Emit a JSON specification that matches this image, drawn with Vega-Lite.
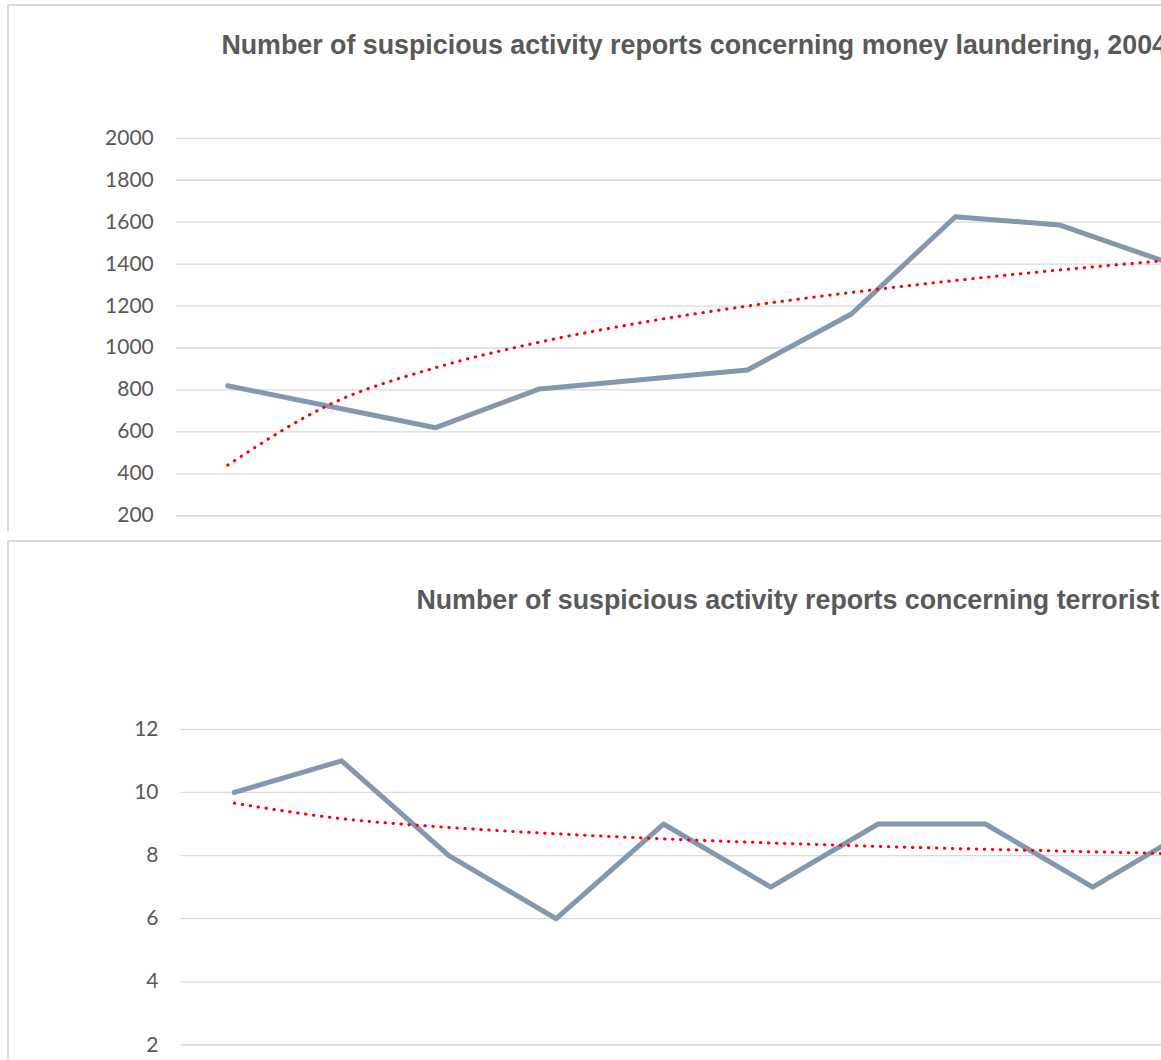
{
  "$schema": "https://vega.github.io/schema/vega-lite/v6.json",
  "padding": {"left": 7, "top": 4, "right": 0, "bottom": 0},
  "background": "white",
  "config": {
    "view": {"stroke": null},
    "concat": {"spacing": 8},
    "axisY": {"labelFont": "Lato", "labelFontSize": 21, "labelColor": "#595959", "domain": false, "ticks": false, "tickSize": 0, "grid": false, "labelPadding": 0, "labelFlush": false, "format": "d"},
    "title": {"font": "Liberation Sans", "fontSize": 26.8, "fontWeight": "bold", "color": "#595959", "anchor": "start", "frame": "group", "baseline": "alphabetic"}
  },
  "datasets": {
    "ml": [
      {"n": 1, "year": 2004, "value": 820, "trend": 441},
      {"n": 2, "year": 2005, "value": 720, "trend": 735},
      {"n": 3, "year": 2006, "value": 620, "trend": 906},
      {"n": 4, "year": 2007, "value": 805, "trend": 1028},
      {"n": 5, "year": 2008, "value": 850, "trend": 1123},
      {"n": 6, "year": 2009, "value": 895, "trend": 1200},
      {"n": 7, "year": 2010, "value": 1162, "trend": 1265},
      {"n": 8, "year": 2011, "value": 1626, "trend": 1322},
      {"n": 9, "year": 2012, "value": 1587, "trend": 1372},
      {"n": 10, "year": 2013, "value": 1415, "trend": 1416}
    ],
    "tf": [
      {"n": 1, "year": 2004, "value": 10, "trend": 9.66},
      {"n": 2, "year": 2005, "value": 11, "trend": 9.17},
      {"n": 3, "year": 2006, "value": 8, "trend": 8.89},
      {"n": 4, "year": 2007, "value": 6, "trend": 8.69},
      {"n": 5, "year": 2008, "value": 9, "trend": 8.53},
      {"n": 6, "year": 2009, "value": 7, "trend": 8.40},
      {"n": 7, "year": 2010, "value": 9, "trend": 8.29},
      {"n": 8, "year": 2011, "value": 9, "trend": 8.20},
      {"n": 9, "year": 2012, "value": 7, "trend": 8.12},
      {"n": 10, "year": 2013, "value": 9, "trend": 8.04}
    ],
    "mlGrid": [{"tick": 200}, {"tick": 400}, {"tick": 600}, {"tick": 800}, {"tick": 1000}, {"tick": 1200}, {"tick": 1400}, {"tick": 1600}, {"tick": 1800}, {"tick": 2000}],
    "tfGrid": [{"tick": 2}, {"tick": 4}, {"tick": 6}, {"tick": 8}, {"tick": 10}, {"tick": 12}],
    "one": [{}]
  },
  "vconcat": [
    {
      "width": 1160,
      "height": 526,
      "title": {"text": "Number of suspicious activity reports concerning money laundering, 2004-2014", "dx": 213.4, "offset": -56},
      "layer": [
        {
          "data": {"name": "mlGrid"},
          "mark": {"type": "rule", "color": "#d9d9d9", "strokeWidth": 1.3},
          "encoding": {
            "y": {"field": "tick", "type": "quantitative", "title": null, "scale": {"domain": [127.3, 2635.7], "nice": false, "zero": false}, "axis": {"values": [200, 400, 600, 800, 1000, 1200, 1400, 1600, 1800, 2000], "offset": -145.3}},
            "x": {"datum": 0.5, "type": "quantitative", "scale": {"domain": [-1.11352, 10.04569], "nice": false, "zero": false}, "axis": null},
            "x2": {"datum": 10.04569}
          }
        },
        {
          "data": {"name": "one"},
          "mark": {"type": "rule", "color": "#d9d9d9", "strokeWidth": 2},
          "encoding": {
            "x": {"datum": -1.11352, "type": "quantitative", "axis": null},
            "y": {"datum": 2635.7, "type": "quantitative", "title": null, "axis": {"values": [200, 400, 600, 800, 1000, 1200, 1400, 1600, 1800, 2000], "offset": -145.3}},
            "y2": {"datum": 127.3}
          }
        },
        {
          "data": {"name": "one"},
          "mark": {"type": "rule", "color": "#d9d9d9", "strokeWidth": 2},
          "encoding": {
            "x": {"datum": -1.11352, "type": "quantitative", "axis": null},
            "x2": {"datum": 10.04569},
            "y": {"datum": 2635.7, "type": "quantitative", "title": null, "axis": {"values": [200, 400, 600, 800, 1000, 1200, 1400, 1600, 1800, 2000], "offset": -145.3}}
          }
        },
        {
          "data": {"name": "ml"},
          "mark": {"type": "line", "color": "#8497b0", "strokeWidth": 5, "strokeCap": "round", "strokeJoin": "round", "clip": true},
          "encoding": {
            "x": {"field": "n", "type": "quantitative", "axis": null},
            "y": {"field": "value", "type": "quantitative", "title": null, "axis": {"values": [200, 400, 600, 800, 1000, 1200, 1400, 1600, 1800, 2000], "offset": -145.3}}
          }
        },
        {
          "data": {"name": "ml"},
          "mark": {"type": "line", "color": "#ff0000", "strokeWidth": 3, "strokeCap": "round", "strokeDash": [0.5, 7.5], "interpolate": "monotone", "clip": true},
          "encoding": {
            "x": {"field": "n", "type": "quantitative", "axis": null},
            "y": {"field": "trend", "type": "quantitative", "title": null, "axis": {"values": [200, 400, 600, 800, 1000, 1200, 1400, 1600, 1800, 2000], "offset": -145.3}}
          }
        }
      ]
    },
    {
      "width": 1160,
      "height": 519,
      "title": {"text": "Number of suspicious activity reports concerning terrorist financing, 2004-2014", "dx": 408.4, "offset": -75},
      "layer": [
        {
          "data": {"name": "tfGrid"},
          "mark": {"type": "rule", "color": "#d9d9d9", "strokeWidth": 1.3},
          "encoding": {
            "y": {"field": "tick", "type": "quantitative", "title": null, "scale": {"domain": [1.525, 17.9645], "nice": false, "zero": false}, "axis": {"values": [2, 4, 6, 8, 10, 12], "offset": -150}},
            "x": {"datum": 0.5, "type": "quantitative", "scale": {"domain": [-1.10904, 9.70177], "nice": false, "zero": false}, "axis": null},
            "x2": {"datum": 9.70177}
          }
        },
        {
          "data": {"name": "one"},
          "mark": {"type": "rule", "color": "#d9d9d9", "strokeWidth": 2},
          "encoding": {
            "x": {"datum": -1.10904, "type": "quantitative", "axis": null},
            "y": {"datum": 17.9645, "type": "quantitative", "title": null, "axis": {"values": [2, 4, 6, 8, 10, 12], "offset": -150}},
            "y2": {"datum": 1.525}
          }
        },
        {
          "data": {"name": "one"},
          "mark": {"type": "rule", "color": "#d9d9d9", "strokeWidth": 2},
          "encoding": {
            "x": {"datum": -1.10904, "type": "quantitative", "axis": null},
            "x2": {"datum": 9.70177},
            "y": {"datum": 17.9645, "type": "quantitative", "title": null, "axis": {"values": [2, 4, 6, 8, 10, 12], "offset": -150}}
          }
        },
        {
          "data": {"name": "tf"},
          "mark": {"type": "line", "color": "#8497b0", "strokeWidth": 5, "strokeCap": "round", "strokeJoin": "round", "clip": true},
          "encoding": {
            "x": {"field": "n", "type": "quantitative", "axis": null},
            "y": {"field": "value", "type": "quantitative", "title": null, "axis": {"values": [2, 4, 6, 8, 10, 12], "offset": -150}}
          }
        },
        {
          "data": {"name": "tf"},
          "mark": {"type": "line", "color": "#ff0000", "strokeWidth": 3, "strokeCap": "round", "strokeDash": [0.5, 7.5], "interpolate": "monotone", "clip": true},
          "encoding": {
            "x": {"field": "n", "type": "quantitative", "axis": null},
            "y": {"field": "trend", "type": "quantitative", "title": null, "axis": {"values": [2, 4, 6, 8, 10, 12], "offset": -150}}
          }
        }
      ]
    }
  ]
}
